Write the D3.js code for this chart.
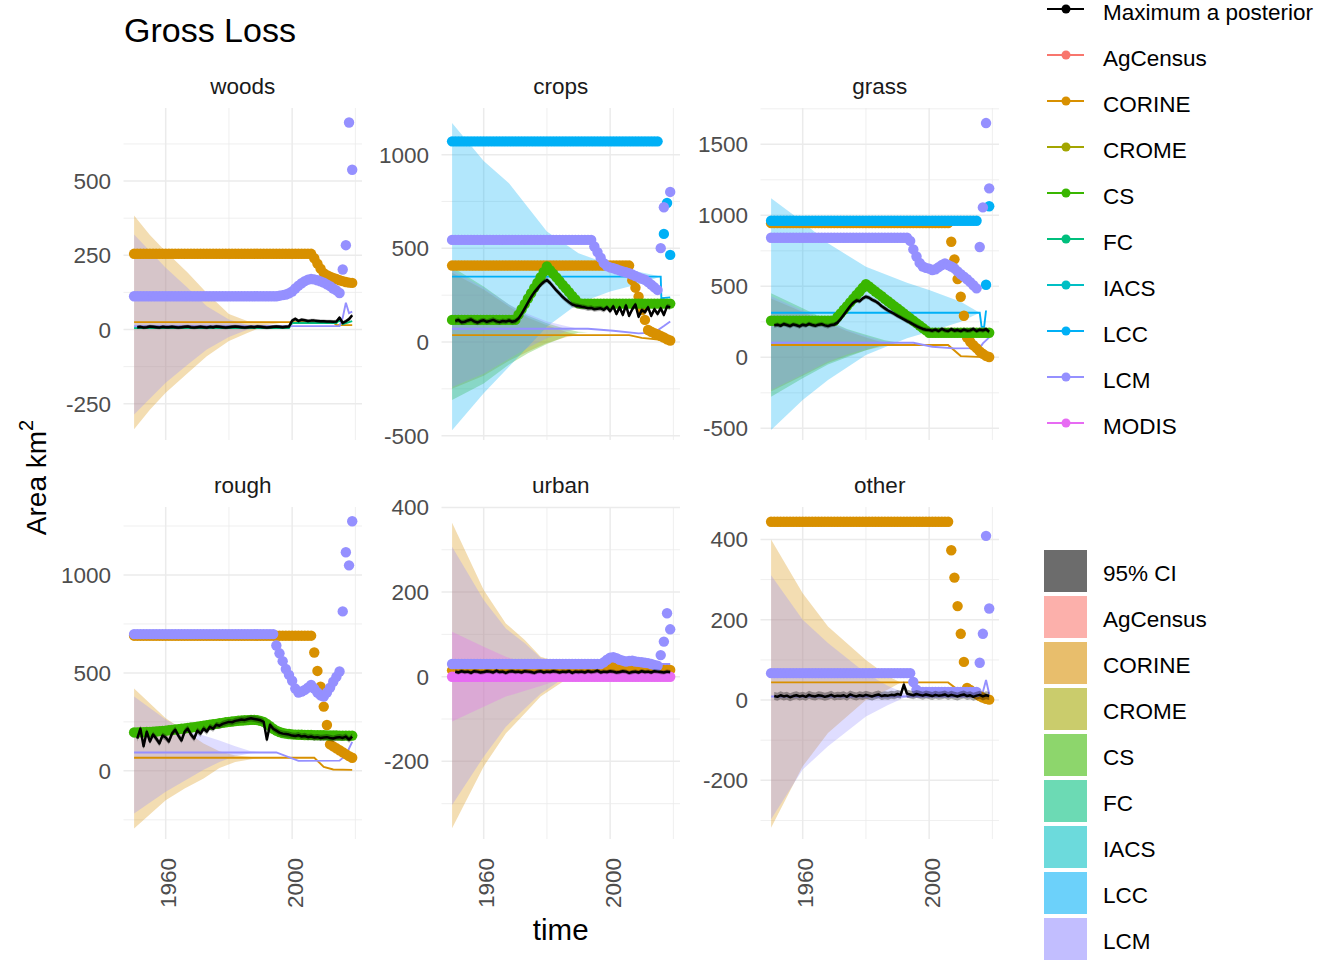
<!DOCTYPE html>
<html><head><meta charset="utf-8">
<script src="https://cdn.jsdelivr.net/npm/d3@7"></script>
<style>
body{margin:0;background:#fff}
svg{display:block}
text{font-family:"Liberation Sans",Arial,sans-serif}
</style>
</head><body>
<svg id="chart" width="1344" height="960"></svg>
<script>
// run-length helper: entries are values or [value, count]
function rle(spec){const out=[];spec.forEach(s=>{if(Array.isArray(s)){for(let i=0;i<s[1];i++)out.push(s[0]);}else out.push(s);});return out;}

// ---------------- DATA ----------------
const years = d3.range(1950, 2020);
const mapYears = d3.range(1951, 2020);
const sourceNames = ["AgCensus","CORINE","CROME","CS","FC","IACS","LCC","LCM","MODIS"];
const sourceColours = ["#F8766D","#D89000","#A3A500","#39B600","#00BF7D","#00BFC4","#00B0F6","#9590FF","#E76BF3"];
const colourLegendLabels = ["Maximum a posterior"].concat(sourceNames);
const fillLegendLabels = ["95% CI"].concat(sourceNames);
const panelNames = ["woods","crops","grass","rough","urban","other"];
const xMajorYears = [1960, 2000];
const xMinorYears = [1980, 2020];
const woodsTicks = [-250, 0, 250, 500];
const cropsTicks = [-500, 0, 500, 1000];
const grassTicks = [-500, 0, 500, 1000, 1500];
const roughTicks = [0, 500, 1000];
const urbanTicks = [-200, 0, 200, 400];
const otherTicks = [-200, 0, 200, 400];

// Maximum a posteriori (1951-2019)
const woodsMAP = [8,9,7,8,10,9,8,7,9,8, 8,9,8,7,8,9,10,8,7,8, 9,8,7,9,8,10,9,8,7,8, 9,10,9,8,7,8,9,8,10,9, 8,7,8,9,10,9,8,9,10, 30,36,29,33,31,29,30,30,29,28, 28,27,27,26,27,40,22,28,35,48];
const cropsMAP = [112,118,105,108,115,120,110,104,112,116, 108,113,118,110,106,112,109,115,108,112, 125,150,180,210,240,265,285,305,320,331, 315,295,275,258,240,225,212,200,195,192, 188,185,180,182,175,178,180,172,185,165, 190,150,185,145,195,140,175,200,135,170, 160,185,140,175,150,180,145,190,185];
const grassMAP = [225,230,222,235,228,220,232,226,218,230, 224,236,228,222,230,234,225,220,228,232, 245,270,300,330,360,385,400,395,415,427, 420,405,395,380,360,345,330,318,305,292, 280,268,255,245,232,220,210,200,195,192, 188,195,185,200,190,185,198,188,192,185, 195,188,190,200,185,195,190,198,180];
const roughMAP = [165,215,125,200,150,185,165,140,180,170, 150,190,210,180,155,200,215,185,165,205, 190,215,200,225,215,235,230,240,245,250, 248,255,258,262,260,265,268,265,262,258, 250,160,235,215,205,195,190,188,185,180, 178,182,175,178,172,175,170,172,168,170, 172,168,165,170,172,168,175,160,175];
const urbanMAP = [12,10,13,11,12,9,13,12,10,11, 13,12,10,14,11,12,9,12,13,11, 12,10,13,12,11,9,12,13,10,12, 11,13,12,10,12,11,13,9,12,11, 12,10,13,11,12,14,10,12,11,13, 12,10,11,13,12,9,11,12,10,13, 11,12,10,13,12,11,10,12,11];
const otherMAP = [10,8,12,9,11,7,10,12,9,11, 8,13,10,9,12,11,8,10,13,9, 11,10,12,8,14,11,9,12,10,13, 11,9,12,14,10,12,11,13,12,15, 13,38,16,14,12,15,13,11,14,12, 10,13,11,12,14,10,13,11,9,12, 14,10,12,8,11,13,9,12,10];
const ciHalfWidth = [6, 14, 16, 16, 5, 10];

// Source observations (points, 1950-2019)
const woodsCORINEpts = rle([[255,57],240,222,205,190,183,178,174,170,166,163,160,158,157]);
const woodsLCMpts = rle([[112,46],114,116,118,122,128,138,148,156,163,168,170,169,166,162,158,152,146,138,132,123,202,284,697,538]);
const cropsCORINEpts = rle([[408,57],330,290,242,171,118,64,55,47,40,32,24,15,8]);
const cropsCSpts = rle([[118,21],146,175,203,232,260,289,317,346,374,403,383,364,345,325,305,286,266,246,227,207,[205,29]]);
const cropsLCCpts = rle([[1071,66],null,577,742,465]);
const cropsLCMpts = rle([[545,45],510,480,450,421,405,398,394,388,382,376,372,367,360,352,345,338,332,320,306,292,278,501,719,null,801]);
const grassCORINEpts = rle([[945,57],814,690,551,427,293,140,110,85,65,42,25,10,2]);
const grassCSpts = rle([[258,21],284,310,335,361,387,413,439,464,490,516,499,481,464,447,430,412,395,378,361,344,327,310,292,275,258,241,224,207,190,173,[173,19]]);
const grassLCCpts = rle([[962,66],null,null,511,1064]);
const grassLCMpts = rle([[842,44],820,760,710,665,640,630,625,615,620,635,650,662,650,640,627,605,585,568,550,530,508,486,777,1056,1650,1190]);
const roughCORINEpts = rle([[690,57],604,510,430,328,234,135,125,115,105,95,85,75,67]);
const roughCSpts = [196,196,197,197,198,199,200,201,203,204,205,207,209,211,213,215,217,219,221,223,225,228,230,233,235,238,240,243,245,248,250,252,254,256,257,258,259,260,260,259,255,250,240,228,215,205,198,193,190,188,186,185,184,184,183,183,183,182,182,182,182,181,181,181,181,180,180,180,180,180];
const roughLCMpts = rle([[698,45],640,600,560,520,490,460,420,400,405,413,425,439,420,400,385,379,400,425,455,480,507,814,1116,1049,1274]);
const urbanCORINEpts = rle([[15,49],18,22,25,20,[16,17]]);
const urbanLCMpts = rle([[30,48],34,40,45,46,44,40,38,36,37,38,36,35,34,33,32,30,28,26,51,83,150,112]);
const urbanMODISpts = rle([[0,70]]);
const otherCORINEpts = rle([[444,57],373,305,234,165,95,30,25,20,15,10,6,3,1]);
const otherLCMpts = rle([[67,45],45,26,[20,19],93,165,409,228]);

// Source model estimates (thin lines) [year, value]
const woodsCORINEline = [[1950,25],[2013,25],[2014,15],[2019,15]];
const woodsFCline = [[1950,5],[1999,5],[2000,22],[2014,22],[2015,32],[2016,18],[2019,28]];
const woodsLCMline = [[1950,11],[2015,12],[2016,40],[2017,90],[2018,55],[2019,60]];
const cropsCORINEline = [[1950,37],[2006,37],[2010,22],[2016,12],[2019,2]];
const cropsLCCline = [[1950,349],[2016,349],[2016.2,234],[2019,238]];
const cropsLCMline = [[1950,71],[1993,71],[2001,60],[2009,46],[2014,50],[2017,85],[2019,110]];
const grassCORINEline = [[1950,87],[2006,87],[2010,9],[2019,0]];
const grassLCCline = [[1950,314],[2016,314],[2016.6,215],[2017.4,215],[2018,330]];
const grassLCMline = [[1950,103],[1995,103],[2001,75],[2008,63],[2016,65],[2017,98],[2019,141]];
const roughCORINEline = [[1950,67],[2007,67],[2010,20],[2013,7],[2019,5]];
const roughLCMline = [[1950,94],[1995,94],[2002,51],[2015,52],[2017,80],[2019,148]];
const urbanCORINEline = [[1950,12],[2019,12]];
const urbanLCMline = [[1950,30],[2019,30]];
const urbanMODISline = [[1950,0],[2019,0]];
const otherCORINEline = [[1950,44],[2006,44],[2009,26],[2013,10],[2019,0]];
const otherLCMline = [[1950,9],[2015,9],[2017,20],[2018,50],[2019,15]];

// Source uncertainty bands [year, low, high]
const woodsCORINEband = [[1950,-336,384],[1955,-270,318],[1960,-213,263],[1967,-146,191],[1973,-90,123],[1980,-39,52],[1986,-11,28],[1992,15,26],[1998,25,25]];
const woodsLCMband = [[1950,-286,320],[1960,-179,208],[1967,-118,140],[1973,-67,78],[1980,-25,34],[1986,0,15],[1992,10,12],[1998,11,11]];
const cropsCORINEband = [[1950,-250,370],[1960,-180,280],[1968,-100,190],[1974,-50,130],[1980,-5,90],[1986,25,55],[1990,37,37]];
const cropsCSband = [[1950,-310,400],[1960,-221,296],[1968,-120,200],[1974,-60,140],[1980,-10,100],[1986,30,70],[1990,50,55],[1993,52,52]];
const cropsLCCband = [[1950,-471,1169],[1960,-274,966],[1968,-132,848],[1980,82,590],[1990,207,474],[2000,269,412],[2010,314,371],[2016,349,349]];
const cropsLCMband = [[1950,-240,385],[1960,-170,290],[1968,-90,200],[1974,-30,150],[1980,20,110],[1986,55,85],[1990,71,71]];
const grassCORINEband = [[1950,-240,415],[1960,-130,320],[1968,-40,240],[1974,10,185],[1980,50,140],[1986,80,100],[1990,87,87]];
const grassCSband = [[1950,-277,451],[1960,-148,345],[1968,-50,260],[1974,0,200],[1980,50,160],[1986,90,120],[1990,100,105]];
const grassLCCband = [[1950,-512,1120],[1960,-301,955],[1968,-160,803],[1980,16,638],[1993,134,525],[2000,180,474],[2010,251,392],[2016,314,314]];
const grassLCMband = [[1950,-230,430],[1960,-120,330],[1968,-30,250],[1974,20,195],[1980,60,150],[1986,95,112],[1990,103,103]];
const roughCORINEband = [[1950,-295,421],[1960,-150,268],[1966,-90,205],[1972,-39,140],[1977,15,100],[1982,45,78],[1988,62,70],[1992,67,67]];
const roughLCMband = [[1950,-218,379],[1960,-107,262],[1966,-50,210],[1972,5,180],[1977,45,155],[1982,75,125],[1987,90,100],[1992,94,94]];
const urbanCORINEband = [[1950,-358,364],[1960,-212,205],[1967,-134,126],[1973,-87,87],[1978,-47,47],[1985,-12,32],[1990,10,15],[1995,12,12]];
const urbanLCMband = [[1950,-303,307],[1960,-189,181],[1967,-118,114],[1973,-75,79],[1978,-40,45],[1985,-5,30],[1990,25,30],[1995,30,30]];
const urbanMODISband = [[1950,-106,106],[1960,-71,71],[1967,-47,47],[1978,-22,22],[1985,-5,5],[1990,0,0]];
const otherCORINEband = [[1950,-318,400],[1960,-165,266],[1968,-82,183],[1980,0,100],[1987,26,59],[1991,44,44]];
const otherLCMband = [[1950,-297,311],[1960,-173,200],[1968,-115,142],[1980,-41,67],[1987,-12,35],[1993,9,15],[1996,9,9]];

// ---------------- PANEL TABLE ----------------
const panels = [
  {name:"woods", ticks:woodsTicks, dom:[-372,746], map:woodsMAP,
   bands:[["CORINE",woodsCORINEband],["LCM",woodsLCMband]],
   lines:[["CORINE",woodsCORINEline],["FC",woodsFCline],["LCM",woodsLCMline]],
   pts:[["CORINE",woodsCORINEpts],["LCM",woodsLCMpts]]},
  {name:"crops", ticks:cropsTicks, dom:[-523,1249], map:cropsMAP,
   bands:[["CORINE",cropsCORINEband],["CS",cropsCSband],["LCC",cropsLCCband],["LCM",cropsLCMband]],
   lines:[["CORINE",cropsCORINEline],["LCC",cropsLCCline],["LCM",cropsLCMline]],
   pts:[["CORINE",cropsCORINEpts],["CS",cropsCSpts],["LCC",cropsLCCpts],["LCM",cropsLCMpts]]},
  {name:"grass", ticks:grassTicks, dom:[-582,1756], map:grassMAP,
   bands:[["CORINE",grassCORINEband],["CS",grassCSband],["LCC",grassLCCband],["LCM",grassLCMband]],
   lines:[["CORINE",grassCORINEline],["LCC",grassLCCline],["LCM",grassLCMline]],
   pts:[["CORINE",grassCORINEpts],["CS",grassCSpts],["LCC",grassLCCpts],["LCM",grassLCMpts]]},
  {name:"rough", ticks:roughTicks, dom:[-348,1347], map:roughMAP,
   bands:[["CORINE",roughCORINEband],["LCM",roughLCMband]],
   lines:[["CORINE",roughCORINEline],["LCM",roughLCMline]],
   pts:[["CORINE",roughCORINEpts],["CS",roughCSpts],["LCM",roughLCMpts]]},
  {name:"urban", ticks:urbanTicks, dom:[-383.5,401], map:urbanMAP,
   bands:[["CORINE",urbanCORINEband],["LCM",urbanLCMband],["MODIS",urbanMODISband]],
   lines:[["CORINE",urbanCORINEline],["LCM",urbanLCMline],["MODIS",urbanMODISline]],
   pts:[["CORINE",urbanCORINEpts],["LCM",urbanLCMpts],["MODIS",urbanMODISpts]]},
  {name:"other", ticks:otherTicks, dom:[-346,480.8], map:otherMAP,
   bands:[["CORINE",otherCORINEband],["LCM",otherLCMband]],
   lines:[["CORINE",otherCORINEline],["LCM",otherLCMline]],
   pts:[["CORINE",otherCORINEpts],["LCM",otherLCMpts]]}
];

// ---------------- LAYOUT ----------------
const panelLeft = [123.5, 441.5, 760.5];
const panelTop = [108, 507];
const PW = 238.5, PH = 332;
const bandOpacity = 0.3;
const colour = d3.scaleOrdinal().domain(sourceNames).range(sourceColours);
const grid = "#EBEBEB";
const svg = d3.select("#chart");

const x = d3.scaleLinear().domain([1946.65, 2022.1]).range([0, PW]);

// title
svg.append("text").attr("x",124).attr("y",41.7).attr("font-size",34).attr("fill","#000").text("Gross Loss");

panels.forEach((p, i) => {
  const col = i % 3, row = Math.floor(i / 3);
  const g = svg.append("g").attr("transform", `translate(${panelLeft[col]},${panelTop[row]})`);
  const y = d3.scaleLinear().domain(p.dom).range([PH, 0]);
  const clipId = "clip" + i;
  g.append("clipPath").attr("id", clipId).append("rect").attr("x",0).attr("y",0).attr("width",PW).attr("height",PH);

  // grid
  const step = p.ticks[1] - p.ticks[0];
  const minor = d3.range(p.ticks[0] - step/2, p.ticks[p.ticks.length-1] + step, step).filter(v => v >= p.dom[0] && v <= p.dom[1]);
  g.selectAll(".hmin").data(minor).enter().append("line")
    .attr("x1",0).attr("x2",PW).attr("y1",d=>y(d)).attr("y2",d=>y(d)).attr("stroke",grid).attr("stroke-width",0.8);
  g.selectAll(".vmin").data(xMinorYears).enter().append("line")
    .attr("y1",0).attr("y2",PH).attr("x1",d=>x(d)).attr("x2",d=>x(d)).attr("stroke",grid).attr("stroke-width",0.8);
  g.selectAll(".hmaj").data(p.ticks).enter().append("line")
    .attr("x1",0).attr("x2",PW).attr("y1",d=>y(d)).attr("y2",d=>y(d)).attr("stroke",grid).attr("stroke-width",1.5);
  g.selectAll(".vmaj").data(xMajorYears).enter().append("line")
    .attr("y1",0).attr("y2",PH).attr("x1",d=>x(d)).attr("x2",d=>x(d)).attr("stroke",grid).attr("stroke-width",1.5);

  // y tick labels
  g.selectAll(".ylab").data(p.ticks).enter().append("text")
    .attr("x",-12.5).attr("y",d=>y(d)+8).attr("text-anchor","end").attr("font-size",22.5).attr("fill","#4D4D4D")
    .text(d=>d);

  // strip label
  g.append("text").attr("x",PW/2).attr("y",-13.7).attr("text-anchor","middle").attr("font-size",22.5).attr("fill","#1A1A1A").text(p.name);

  // x tick labels on bottom row
  if (row === 1) {
    xMajorYears.forEach(yr => {
      g.append("text").attr("transform",`translate(${x(yr)+10.8},${PH+19}) rotate(-90)`)
        .attr("text-anchor","end").attr("font-size",22.5).attr("fill","#4D4D4D").text(yr);
    });
  }

  const body = g.append("g").attr("clip-path",`url(#${clipId})`);
  const area = d3.area().x(d=>x(d[0])).y0(d=>y(d[1])).y1(d=>y(d[2]));
  const line = d3.line().x(d=>x(d[0])).y(d=>y(d[1]));

  // bands
  p.bands.forEach(([src, data]) => {
    body.append("path").attr("d", area(data)).attr("fill", colour(src)).attr("fill-opacity",bandOpacity);
  });
  // thin source lines
  p.lines.forEach(([src, data]) => {
    body.append("path").attr("d", line(data)).attr("fill","none").attr("stroke",colour(src)).attr("stroke-width",1.9);
  });
  // points
  p.pts.forEach(([src, vals]) => {
    const pts = years.map((yr,k)=>[yr, vals[k]]).filter(d=>d[1]!==null && d[1]!==undefined);
    body.selectAll(null).data(pts).enter().append("circle")
      .attr("cx",d=>x(d[0])).attr("cy",d=>y(d[1])).attr("r",5.2).attr("fill",colour(src));
  });
  // 95% CI + MAP
  const hw = ciHalfWidth[i];
  const mp = mapYears.map((yr,k)=>[yr, p.map[k]]);
  body.append("path").attr("d", d3.area().x(d=>x(d[0])).y0(d=>y(d[1]-hw)).y1(d=>y(d[1]+hw))(mp))
    .attr("fill","#000").attr("fill-opacity",0.33);
  body.append("path").attr("d", d3.line().x(d=>x(d[0])).y(d=>y(d[1]))(mp))
    .attr("fill","none").attr("stroke","#000").attr("stroke-width",2.5).attr("stroke-linejoin","round");
});

// axis titles
svg.append("text").attr("x",560.7).attr("y",940).attr("text-anchor","middle").attr("font-size",29.5).attr("fill","#000").text("time");
const yt = svg.append("text").attr("transform","translate(45.5,477.5) rotate(-90)").attr("text-anchor","middle").attr("font-size",28).attr("fill","#000");
yt.append("tspan").text("Area km");
yt.append("tspan").attr("dy",-12.4).attr("font-size",20).text("2");

// colour legend
const lg = svg.append("g");
colourLegendLabels.forEach((lab, k) => {
  const cy = 9 + 46*k;
  const c = k === 0 ? "#000" : colour(lab);
  lg.append("line").attr("x1",1047).attr("x2",1084).attr("y1",cy).attr("y2",cy).attr("stroke",c).attr("stroke-width",2);
  lg.append("circle").attr("cx",1066).attr("cy",cy).attr("r",4.5).attr("fill",c);
  lg.append("text").attr("x",1103).attr("y",cy+11).attr("font-size",22.5).attr("fill","#000").text(lab);
});
// fill legend (keys show two overlaid layers)
fillLegendLabels.forEach((lab, k) => {
  const top = 550 + 46*k;
  if (top > 960) return;
  const c = k === 0 ? "#000" : colour(lab);
  for (let r = 0; r < 2; r++) {
    lg.append("rect").attr("x",1044).attr("y",top).attr("width",43).attr("height",42).attr("fill",c).attr("fill-opacity",0.35);
  }
  lg.append("text").attr("x",1103).attr("y",top+31).attr("font-size",22.5).attr("fill","#000").text(lab);
});
</script>
</body></html>
